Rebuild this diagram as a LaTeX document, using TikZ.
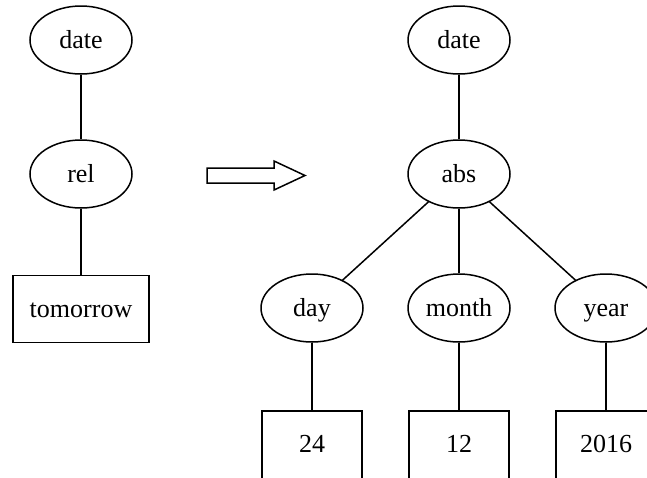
\documentclass[tikz,border=0pt]{standalone}
\usepackage{fontspec}
\setmainfont{Liberation Serif}
\usetikzlibrary{shapes.geometric}
\begin{document}
\begin{tikzpicture}[x=1pt,y=-1pt,
  every node/.style={font=\fontsize{26}{30}\selectfont, line width=1.5pt,
    text height=20pt, text depth=4pt},
  oval/.style={draw, ellipse, minimum width=102pt, minimum height=68pt, inner sep=0pt},
  leaf/.style={draw, rectangle, minimum height=74pt, inner sep=0pt},
  edge/.style={line width=1.5pt}]
\useasboundingbox (0,0) rectangle (647,477);
\clip (0,0) rectangle (647,477);

% source tree
\node[oval] (d1) at (81,40) {date};
\node[oval] (rel) at (81,174) {rel};
\node[leaf, minimum width=136pt, minimum height=67pt] (tom) at (81,309) {tomorrow};
\draw[edge] (d1) -- (rel);
\draw[edge] (rel) -- (tom);

% rewrite arrow
\draw[line width=1.5pt, line join=miter]
  (207,168) -- (274,168) -- (274,161) -- (305,175.5) -- (274,190)
  -- (274,183) -- (207,183) -- cycle;

% target tree
\node[oval] (d2) at (459,40) {date};
\node[oval] (abs) at (459,174) {abs};
\node[oval] (day) at (312,308) {day};
\node[oval] (month) at (459,308) {month};
\node[oval] (year) at (606,308) {year};
\node[leaf, minimum width=100pt, anchor=north] (n24) at (312,410) {};
\node[leaf, minimum width=100pt, anchor=north] (n12) at (459,410) {};
\node[leaf, minimum width=100pt, anchor=north] (n2016) at (606,410) {};
\node at (312,444) {24};
\node at (459,444) {12};
\node at (606,444) {2016};
\draw[edge] (d2) -- (abs);
\draw[edge] (abs) -- (day);
\draw[edge] (abs) -- (month);
\draw[edge] (abs) -- (year);
\draw[edge] (day) -- (n24);
\draw[edge] (month) -- (n12);
\draw[edge] (year) -- (n2016);
\end{tikzpicture}
\end{document}
